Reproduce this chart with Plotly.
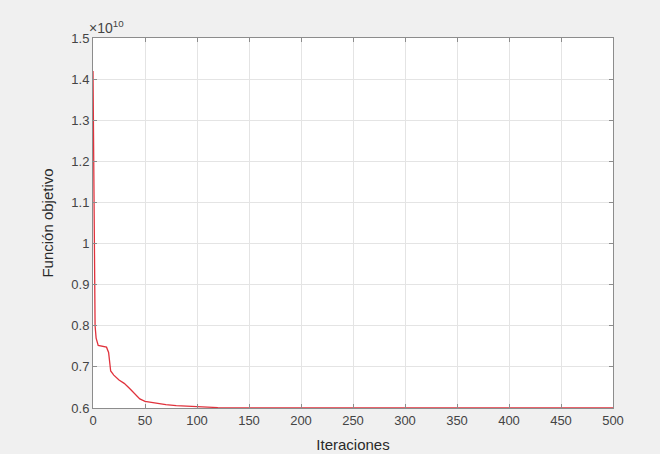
import plotly.graph_objects as go

# Objective function value per iteration (units of 1e10)
iteraciones = [0, 1, 2, 3, 5, 13, 15, 17, 20, 25, 30, 35, 40, 45, 50, 60, 70, 80, 100, 120, 150, 500]
funcion_objetivo = [1.42, 1.05, 0.80, 0.77, 0.752, 0.748, 0.735, 0.69, 0.68, 0.668, 0.66, 0.648,
                    0.635, 0.622, 0.616, 0.612, 0.608, 0.606, 0.604, 0.601, 0.6005, 0.6005]

x_ticks = [0, 50, 100, 150, 200, 250, 300, 350, 400, 450, 500]
y_ticks = [0.6, 0.7, 0.8, 0.9, 1.0, 1.1, 1.2, 1.3, 1.4, 1.5]
y_tick_text = ["0.6", "0.7", "0.8", "0.9", "1", "1.1", "1.2", "1.3", "1.4", "1.5"]

axis_color = "#8c8c8c"
text_color = "#444444"
font_family = "Liberation Sans, Arial, sans-serif"

fig = go.Figure()
fig.add_trace(go.Scatter(
    x=iteraciones, y=funcion_objetivo, mode="lines",
    line=dict(color="#e0323c", width=1.3), showlegend=False,
))

common = dict(
    showline=True, linecolor=axis_color, linewidth=1, mirror="ticks",
    ticks="inside", ticklen=4, tickcolor=axis_color,
    showgrid=True, gridcolor="#e4e4e4", gridwidth=1, zeroline=False,
    automargin=False,
    tickfont=dict(family=font_family, size=13, color=text_color),
)

fig.update_xaxes(
    range=[0, 500], tickvals=x_ticks,
    title=dict(text="Iteraciones", standoff=12,
               font=dict(family=font_family, size=15, color="#2a2a2a")),
    **common,
)
fig.update_yaxes(
    range=[0.6, 1.5], tickvals=y_ticks, ticktext=y_tick_text,
    title=dict(text="Función objetivo", standoff=14,
               font=dict(family=font_family, size=15, color="#2a2a2a")),
    **common,
)

fig.add_annotation(
    text="×10<sup>10</sup>", xref="paper", yref="paper", x=0, y=1,
    xanchor="left", yanchor="bottom", showarrow=False, xshift=-6, yshift=0,
    font=dict(family=font_family, size=14, color=text_color),
)

fig.update_layout(
    width=660, height=454,
    margin=dict(l=93, r=47, t=38, b=46),
    paper_bgcolor="#f0f0f0", plot_bgcolor="#ffffff",
)

fig.write_html("out.html")
